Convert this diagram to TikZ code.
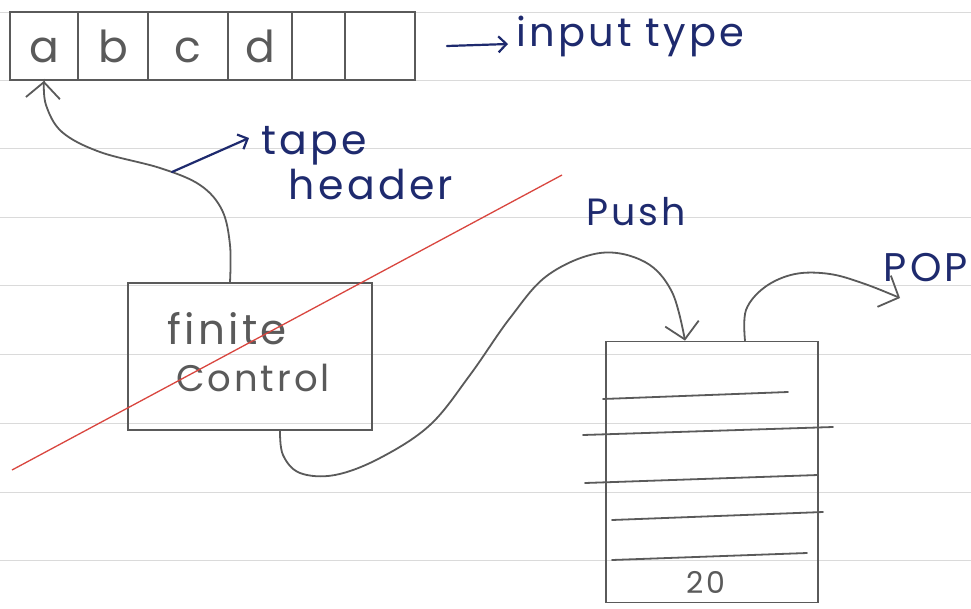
\documentclass[tikz,border=0pt]{standalone}
\usepackage{fontspec}
\setmainfont{Poppins}
\newfontfamily\hand[LetterSpace=8]{Poppins}
\usetikzlibrary{arrows.meta}
\definecolor{pencil}{HTML}{5A5A5A}
\definecolor{ink}{HTML}{1E2A6E}
\definecolor{redink}{HTML}{D9463F}
\definecolor{rulecol}{HTML}{DADADA}
\begin{document}
\begin{tikzpicture}[x=1pt,y=-1pt,
  pencilline/.style={draw=pencil,line width=1.8pt,line cap=round},
  inkline/.style={draw=ink,line width=2.2pt,line cap=round},
  cell/.style={pencilline,inner sep=0pt,minimum height=68pt,text=pencil,
    font=\hand\fontsize{44}{44}\selectfont,text height=32pt,text depth=0pt},
  penciltext/.style={text=pencil,inner sep=0pt},
  inktext/.style={text=ink,inner sep=0pt},
  barb/.style={-{Straight Barb[length=16pt,width=34pt,line width=1.8pt]}},
  smallbarb/.style={-{Straight Barb[length=8pt,width=16pt,line width=2.2pt]}}]
\useasboundingbox (0,0) rectangle (971,608);
\fill[white] (0,0) rectangle (971,608);
% ruled paper
\foreach \yy in {12,80,148,217,285,354,423,492,560}
  \draw[rulecol,line width=1pt] (0,\yy) -- (971,\yy);
% tape
\node[cell,minimum width=68pt] (ca) at (44,46) {a};
\node[cell,minimum width=70pt] (cb) at (113,46) {b};
\node[cell,minimum width=80pt] (cc) at (188,46) {c};
\node[cell,minimum width=64pt] (cd) at (260,46) {d};
\node[cell,minimum width=53pt] (ce) at (318.5,46) {};
\node[cell,minimum width=70pt] (cf) at (380,46) {};
% input type label
\node[inktext,anchor=west,font=\hand\fontsize{40}{40}\selectfont] (it) at (516,36) {input type};
\coordinate (itA) at (447,46);
\draw[inkline,smallbarb] (itA) -- ([xshift=-8pt,yshift=-8pt]it.west);
% finite control
\node[pencilline,minimum width=244pt,minimum height=147pt,inner sep=0pt] (fc) at (250,356.5) {};
\node[penciltext,font=\hand\fontsize{42}{42}\selectfont] (fin) at (227,329) {finite};
\node[penciltext,font=\hand\fontsize{37}{37}\selectfont] (ctl) at (253,378) {Control};
% tape header arrow
\draw[pencilline,barb] plot[smooth,tension=0.6] coordinates {([xshift=-20pt]fc.north) (230,245) (222,210) (200,185) (160,168) (100,152) (62,132) (46,105) (ca.south)};
% tape header label
\node[inktext,font=\hand\fontsize{41}{41}\selectfont] (tape) at (314,146) {tape};
\node[inktext,font=\hand\fontsize{41}{41}\selectfont] (header) at (371,185) {header};
\coordinate (thA) at (172,172);
\draw[inkline,smallbarb] (thA) -- ([xshift=-12pt,yshift=8pt]tape.west);
% red stroke
\draw[redink,line width=1.3pt] (12,470) -- (562,175);
% stack
\node[pencilline,minimum width=212pt,minimum height=261pt,inner sep=0pt] (stk) at (712,472) {};
\draw[pencilline] (603,399) -- (788,392);
\draw[pencilline] (583,435) -- (833,427);
\draw[pencilline] (585,483) -- (818,475);
\draw[pencilline] (612,520) -- (823,512);
\draw[pencilline] (612,560) -- (807,553);
\node[penciltext,font=\hand\fontsize{30}{30}\selectfont] (z0) at (706,582) {20};
% push
\node[inktext,font=\hand\fontsize{38}{38}\selectfont] (push) at (636,212) {Push};
\draw[pencilline,barb] plot[smooth,tension=0.6] coordinates {([xshift=30pt]fc.south) (283,455) (300,473) (335,475) (380,458) (430,425) (470,375) (510,318) (548,275) (600,253) (645,262) (672,292) ([xshift=-27pt]stk.north)};
% pop
\node[inktext,font=\hand\fontsize{40}{40}\selectfont] (pop) at (926,268) {POP};
\coordinate (popEnd) at (900,298);
\draw[pencilline,barb] plot[smooth,tension=0.6] coordinates {([xshift=33pt]stk.north) (746,310) (765,287) (795,274) (830,274) (865,284) (popEnd)};
\end{tikzpicture}
\end{document}
